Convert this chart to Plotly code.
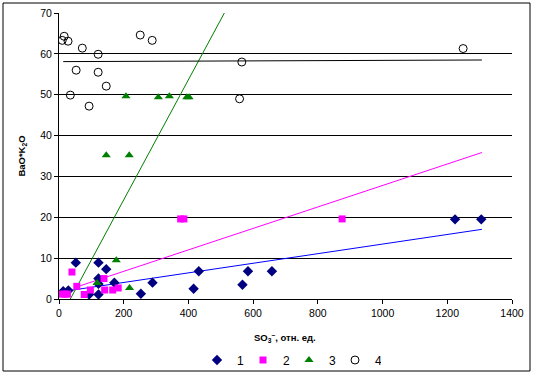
import plotly.graph_objects as go

# ---- data ----
s1_x = [13, 29, 52, 93, 122, 122, 122, 122, 146, 171, 253, 289, 416, 432, 567, 584, 658, 1224, 1305]
s1_y = [1.9, 2.1, 8.9, 1.1, 8.9, 5.0, 1.1, 3.7, 7.3, 4.0, 1.3, 4.0, 2.5, 6.8, 3.5, 6.8, 6.8, 19.5, 19.5]

s2_x = [10, 18, 26, 40, 55, 78, 97, 139, 141, 166, 183, 376, 386, 875]
s2_y = [1.2, 1.2, 1.2, 6.6, 3.1, 1.1, 2.2, 5.0, 2.2, 2.2, 2.7, 19.6, 19.6, 19.6]

s3_x = [118, 177, 218, 146, 217, 207, 307, 341, 395, 402]
s3_y = [3.9, 9.5, 2.7, 35.2, 35.2, 49.6, 49.4, 49.6, 49.4, 49.4]

s4_x = [10, 16, 28, 72, 121, 53, 121, 35, 146, 93, 251, 288, 565, 558, 1249]
s4_y = [63.3, 64.3, 63.1, 61.4, 59.9, 56.0, 55.5, 49.9, 52.1, 47.2, 64.6, 63.3, 58.0, 49.0, 61.3]

# trend line end points
t1_x = [13, 1307]
t1_y = [1.85, 17.05]
t2_x = [47, 1307]
t2_y = [2.75, 35.85]
t3_x = [35, 511]
t3_y = [0.0, 70.0]
t4_x = [13, 1307]
t4_y = [58.1, 58.5]

series_names = ["1", "2", "3", "4"]
x_ticks = [0, 200, 400, 600, 800, 1000, 1200, 1400]
y_ticks = [0, 10, 20, 30, 40, 50, 60, 70]
x_title = "<b>SO<sub>3</sub><sup>–</sup>, отн. ед.</b>"
y_title = "<b>BaO*K<sub>2</sub>O</b>"

FONT = "Liberation Sans, Arial, sans-serif"

fig = go.Figure()

# trend lines
for tx, ty, col in [(t1_x, t1_y, "#0000FF"), (t2_x, t2_y, "#FF00FF"),
                    (t3_x, t3_y, "#008000"), (t4_x, t4_y, "#000000")]:
    fig.add_trace(go.Scatter(x=tx, y=ty, mode="lines", showlegend=False,
                             line=dict(color=col, width=1), hoverinfo="skip"))

fig.add_trace(go.Scatter(x=s1_x, y=s1_y, mode="markers", name=series_names[0],
                         marker=dict(symbol="diamond", size=8, color="#000080",
                                     line=dict(width=0))))
fig.add_trace(go.Scatter(x=s2_x, y=s2_y, mode="markers", name=series_names[1],
                         marker=dict(symbol="square", size=7, color="#FF00FF",
                                     line=dict(width=0))))
fig.add_trace(go.Scatter(x=s3_x, y=s3_y, mode="markers", name=series_names[2],
                         marker=dict(symbol="triangle-up", size=8, color="#008000",
                                     line=dict(width=0))))
fig.add_trace(go.Scatter(x=s4_x, y=s4_y, mode="markers", name=series_names[3],
                         marker=dict(symbol="circle-open", size=8, color="#000000",
                                     line=dict(width=1))))

W, H = 534, 376
L, R, T, B = 59, 22, 13, 77
pw, ph = W - L - R, H - T - B

def px2paper_x(px):
    return (px - L) / pw

def px2paper_y(py):
    return (H - B - py) / ph

fig.update_layout(
    width=W, height=H,
    margin=dict(l=L, r=R, t=T, b=B, pad=0, autoexpand=False),
    paper_bgcolor="white", plot_bgcolor="white",
    font=dict(family=FONT, size=10.5, color="black"),
    xaxis=dict(range=[0, 1400], tickvals=x_ticks, ticks="outside", ticklen=4,
               tickcolor="black", showline=True, linecolor="black", linewidth=1,
               showgrid=False, zeroline=False, automargin=False),
    yaxis=dict(range=[0, 70], tickvals=y_ticks, ticks="outside", ticklen=4,
               tickcolor="black", showline=True, linecolor="black", linewidth=1,
               showgrid=True, gridcolor="black", gridwidth=1, zeroline=False,
               automargin=False,
               title=dict(text=y_title, font=dict(size=9.5), standoff=12)),
    annotations=[dict(text=x_title, xref="paper", yref="paper",
                      x=px2paper_x(285), y=px2paper_y(337),
                      xanchor="center", yanchor="middle", showarrow=False,
                      font=dict(size=9.5))],
    legend=dict(orientation="h", x=px2paper_x(197), xanchor="left",
                y=px2paper_y(360), yanchor="middle",
                font=dict(size=12), bgcolor="rgba(0,0,0,0)",
                entrywidth=1, itemwidth=30, tracegroupgap=0),
    shapes=[dict(type="rect", xref="paper", yref="paper",
                 x0=px2paper_x(3), x1=px2paper_x(530),
                 y0=px2paper_y(371), y1=px2paper_y(3),
                 line=dict(color="black", width=1), layer="below")],
    showlegend=True,
)

fig.write_html("out.html",
               config={"displayModeBar": False},
               post_script="document.body.style.margin='0';"
                           "document.body.style.overflow='hidden';")
